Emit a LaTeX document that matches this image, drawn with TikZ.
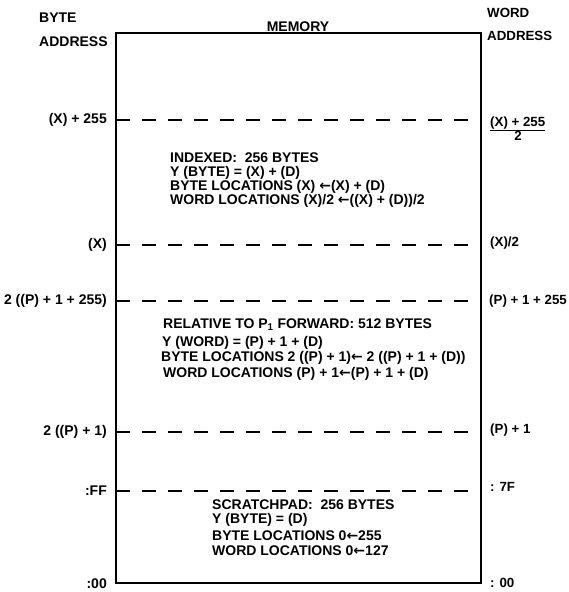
\documentclass[tikz,border=0pt]{standalone}
\usepackage{fontspec}
\setmainfont{Liberation Sans}
\newfontfamily\arr{DejaVu Sans}
\newcommand{\la}{{\arr\bfseries ←}}
\begin{document}
\begin{tikzpicture}[x=1pt,y=-1pt,
  txt/.style={font=\fontsize{14}{16}\selectfont\bfseries, inner sep=0pt, anchor=west},
  ltxt/.style={txt, anchor=east},
  rtxt/.style={txt, font=\fontsize{13.3}{16}\selectfont\bfseries},
  boxline/.style={line width=1.7pt},
  dashline/.style={line width=1.6pt, dash pattern=on 14pt off 12pt}]
\useasboundingbox (0,0) rectangle (569,592);
% box
\draw[boxline] (116,33) rectangle (481,583);
\node[txt] (byte) at (39,18) {BYTE};
\node[txt] (baddr) at (39,42) {ADDRESS};
\node[txt, anchor=center] (mem) at (298,27) {MEMORY};
\node[rtxt] (word) at (487,13) {WORD};
\node[rtxt] (waddr) at (487,36) {ADDRESS};
% dashed separators
\foreach \i/\y in {1/120,2/245,3/301,4/432,5/491}{
  \coordinate (l\i) at (116,\y);
  \coordinate (r\i) at (481,\y);
  \draw[dashline] (l\i) -- (r\i);
}
% left labels
\node[ltxt] (a1) at (107,120) {(X) + 255};
\node[ltxt] (a2) at (107,245) {(X)};
\node[ltxt] (a3) at (107,301) {2 ((P) + 1 + 255)};
\node[ltxt] (a4) at (107,432) {2 ((P) + 1)};
\node[ltxt] (a5) at (107,491) {:FF};
\node[ltxt] (a6) at (107,584) {:00};
% right labels
\node[rtxt] (w1) at (490,124) {$\underline{\hbox{(X) + 255}}$};
\node[rtxt, anchor=center] (w1b) at (518,136) {2};
\node[rtxt] (w2) at (490,243) {(X)/2};
\node[rtxt] (w3) at (489,301) {(P) + 1 + 255};
\node[rtxt] (w4) at (490,430) {(P) + 1};
\node[rtxt] (w5) at (490,487) {: 7F};
\node[rtxt] (w6) at (490,583) {: 00};
% block 1
\node[txt] (b11) at (170,158) {INDEXED:\ \ 256 BYTES};
\node[txt] (b12) at (170,173) {Y (BYTE) = (X) + (D)};
\node[txt] (b13) at (170,187) {BYTE LOCATIONS (X) \la(X) + (D)};
\node[txt] (b14) at (170,201) {WORD LOCATIONS (X)/2 \la((X) + (D))/2};
% block 2
\node[txt] (b21) at (163,325) {RELATIVE TO P$_{\mathbf 1}$ FORWARD: 512 BYTES};
\node[txt] (b22) at (162,343) {Y (WORD) = (P) + 1 + (D)};
\node[txt] (b23) at (161,358) {BYTE LOCATIONS 2 ((P) + 1)\la\ 2 ((P) + 1 + (D))};
\node[txt] (b24) at (163,374) {WORD LOCATIONS (P) + 1\la(P) + 1 + (D)};
% block 3
\node[txt] (b31) at (212,505) {SCRATCHPAD:\ \ 256 BYTES};
\node[txt] (b32) at (212,520) {Y (BYTE) = (D)};
\node[txt] (b33) at (212,536) {BYTE LOCATIONS 0\la255};
\node[txt] (b34) at (212,551) {WORD LOCATIONS 0\la127};
\end{tikzpicture}
\end{document}
